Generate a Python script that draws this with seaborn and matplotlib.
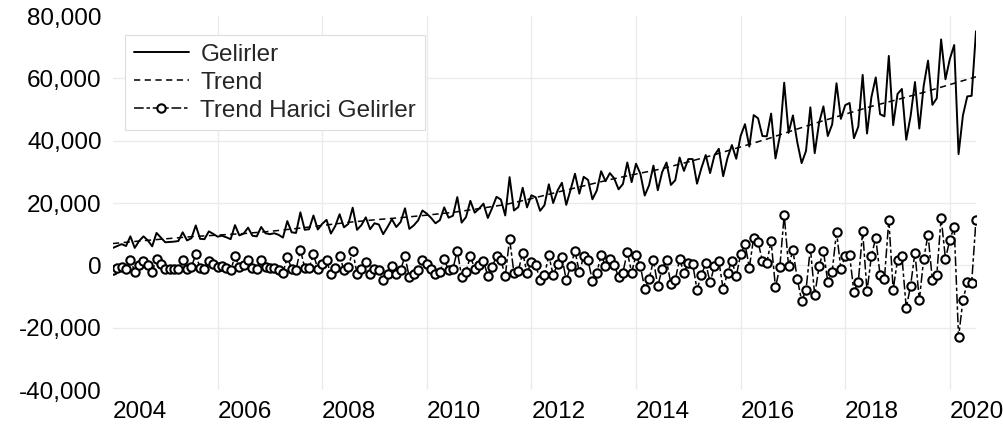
import numpy as np
import pandas as pd
import seaborn as sns
import matplotlib.pyplot as plt
from matplotlib.ticker import FuncFormatter
from matplotlib.transforms import ScaledTranslation

# monthly series, Jan 2004 .. Jul 2020
start_year = 2004
detrended = [
    -1400, -900, -500, -1200, 1800, -2100, 0, 1400, 0, -2100,
    2100, 500, -1100, -1100, -1100, -1100, 1600, -1100, -500, 3500,
    -900, -1100, 1400, 500, -500, -300, -900, -1600, 2900, -500,
    0, 1800, -900, -1300, 1600, -500, -900, -800, -1400, -2500,
    2700, -1100, -1400, 5000, -750, -750, 3500, -1100, 500, 1600,
    -2900, -750, 2900, -1400, -500, 4600, -2700, -1300, 1100, -2900,
    -1100, -1600, -4800, -2700, -300, -2900, -1400, 2900, -3900, -2900,
    -1400, 1600, 500, -1100, -2900, -2100, 1900, -1600, -1100, 4700,
    -3700, -2100, 2900, -1100, 0, 1400, -3400, -500, 2900, 1800,
    -3500, 8500, -2500, -1800, 4100, -2500, 1100, 0, -4600, -3200,
    3200, -3200, 500, 2700, -4800, -200, 4600, -2200, 2900, 1600,
    -5000, -2500, 3400, -200, 2100, 100, -3700, -2300, 4300, -2300,
    3300, -200, -7500, -4500, 1600, -6600, -1100, 1600, -5900, -4800,
    2100, -2500, 900, 500, -7800, -3200, 700, -5500, -200, 1500,
    -7700, -2300, 1400, -3400, 3500, 6900, -700, 8900, 7500, 1400,
    900, 7700, -7100, -500, 16200, -300, 4800, -4300, -11400, -8000,
    5600, -9600, -300, 4600, -5300, -2100, 10700, -1100, 2900, 3200,
    -8500, -5300, 10900, -8300, 2900, 8900, -3200, -4300, 14700, -7800,
    1800, 3000, -13700, -6500, 4100, -11200, 2100, 9800, -4800, -3200,
    15300, 2100, 8200, 12300, -23100, -11200, -5500, -5700, 14600,
]
gelirler = [
    5600, 6200, 6800, 6200, 9300, 5600, 7800, 9300, 8000, 6100,
    10400, 8900, 7400, 7500, 7600, 7800, 10600, 8000, 8700, 12800,
    8500, 8400, 10900, 10100, 9200, 9500, 9000, 8400, 12900, 9600,
    10200, 12100, 9500, 9300, 12300, 10300, 10000, 10300, 9800, 8900,
    14200, 10600, 10400, 17000, 11400, 11600, 16000, 11500, 13300, 14600,
    10200, 12600, 16400, 12200, 13300, 18500, 11400, 12900, 15400, 11600,
    13500, 13100, 10000, 12300, 14800, 12300, 13900, 18300, 11700, 12800,
    14400, 17600, 16600, 15200, 13500, 14500, 18600, 15300, 15900, 21900,
    13700, 15500, 20700, 16900, 18200, 19800, 15200, 18400, 22000, 21100,
    16000, 28300, 17600, 18700, 24900, 18600, 22500, 21800, 17500, 19300,
    26000, 20000, 24000, 26500, 19400, 24300, 29400, 23000, 28400, 27400,
    21200, 24000, 30200, 27000, 29600, 27900, 24400, 26100, 33000, 26700,
    32600, 29400, 22400, 25700, 32000, 24100, 29900, 33000, 25800, 27300,
    34600, 30300, 34100, 34100, 26200, 31200, 35400, 29600, 35300, 37400,
    28600, 34500, 38600, 34200, 41500, 45300, 38100, 48200, 47200, 41500,
    41400, 48700, 34300, 41400, 58600, 42500, 48100, 39500, 32800, 36700,
    50700, 36000, 45700, 51000, 41500, 45200, 58400, 47000, 51400, 52100,
    40800, 44500, 61100, 42300, 53900, 60300, 48500, 47800, 67200, 45000,
    55000, 56600, 40300, 47900, 58800, 43900, 57600, 65700, 51500, 53600,
    72500, 59700, 66200, 70700, 35700, 48100, 54200, 54400, 75100,
]
# trend read every six months
trend_years = [2004.0, 2004.5, 2005.0, 2005.5, 2006.0, 2006.5, 2007.0, 2007.5,
               2008.0, 2008.5, 2009.0, 2009.5, 2010.0, 2010.5, 2011.0, 2011.5,
               2012.0, 2012.5, 2013.0, 2013.5, 2014.0, 2014.5, 2015.0, 2015.5,
               2016.0, 2016.5, 2017.0, 2017.5, 2018.0, 2018.5, 2019.0, 2019.5,
               2020.0, 2020.5]
trend = [7000, 7800, 8500, 9200, 9700, 10200, 10900, 11800,
         12800, 13800, 14600, 15300, 16100, 17000, 18200, 19500,
         21400, 23500, 25500, 27500, 29300, 31000, 33200, 35500,
         38000, 40500, 43300, 46000, 48500, 51000, 53200, 55500,
         58000, 60500]
year_ticks = [2004, 2006, 2008, 2010, 2012, 2014, 2016, 2018, 2020]
value_ticks = [-40000, -20000, 0, 20000, 40000, 60000, 80000]

years = start_year + np.arange(len(gelirler)) / 12
df = pd.DataFrame({'year': years, 'gelirler': gelirler, 'detrended': detrended})
trend_df = pd.DataFrame({'year': trend_years, 'trend': trend})

sns.set_theme(style='whitegrid', rc={'grid.color': '#ebebeb', 'grid.linewidth': 1.0})
plt.rcParams['font.family'] = ['Liberation Sans', 'DejaVu Sans']
plt.rcParams['lines.scale_dashes'] = False

fig = plt.figure(figsize=(10.04, 4.33), dpi=100)
ax = fig.add_axes([0.1125, 0.0993, 0.8596, 0.8637])

sns.lineplot(data=df, x='year', y='gelirler', ax=ax, color='black', linewidth=1.4,
             label='Gelirler', zorder=3)
sns.lineplot(data=trend_df, x='year', y='trend', ax=ax, color='black', linewidth=1.1,
             linestyle=(0, (4.5, 3.2)), label='Trend', zorder=2)
sns.lineplot(data=df, x='year', y='detrended', ax=ax, color='black', linewidth=1.1,
             linestyle=(0, (7, 2, 2.5, 2)), marker='o', markersize=6,
             markerfacecolor='white', markeredgecolor='black', markeredgewidth=1.5,
             label='Trend Harici Gelirler', zorder=4)

ax.set_xlim(2004, 2020.5)
ax.set_ylim(-40000, 80000)
ax.set_xticks(year_ticks)
ax.set_xticklabels([str(y) for y in year_ticks])
shift = ScaledTranslation(-4 / 100, 0, fig.dpi_scale_trans)
for lbl in ax.get_xticklabels():
    lbl.set_ha('left')
    lbl.set_transform(lbl.get_transform() + shift)
ax.set_yticks(value_ticks)
ax.yaxis.set_major_formatter(FuncFormatter(lambda v, p: f'{v:,.0f}'))
ax.tick_params(axis='both', length=0, labelsize=17.5, colors='black')
ax.tick_params(axis='x', pad=8)
ax.tick_params(axis='y', pad=8)
ax.set_xlabel('')
ax.set_ylabel('')
for s in ax.spines.values():
    s.set_visible(False)
ygl = ax.yaxis.get_gridlines()
ygl[0].set_visible(False)
ygl[-1].set_visible(False)
ax.xaxis.get_gridlines()[0].set_visible(False)

leg = ax.legend(loc='upper left', bbox_to_anchor=(0.014, 0.949), borderaxespad=0,
                fontsize=17.5, frameon=True, fancybox=False, framealpha=1,
                edgecolor='#dddddd', handlelength=2.3, handletextpad=0.45,
                borderpad=0.35, labelspacing=0.25, numpoints=1)
leg.get_frame().set_linewidth(0.8)

fig.savefig('out.png', dpi=100)
